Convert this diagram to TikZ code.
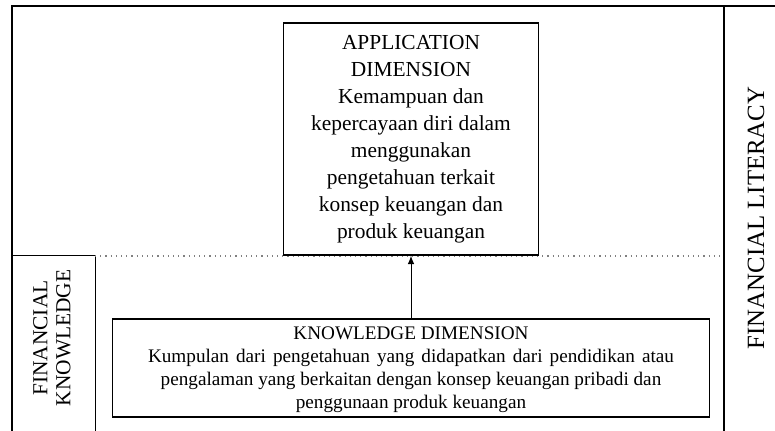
\documentclass[tikz,border=0pt]{standalone}
\usepackage{fontspec}
\setmainfont{Liberation Serif}
\usetikzlibrary{arrows.meta}
\tikzset{
  frame/.style={line width=1.1pt},
  divider/.style={line width=0.7pt},
  dimbox/.style={draw,line width=0.6pt,align=center,inner sep=0pt},
  appbox/.style={dimbox,minimum width=127.5pt,minimum height=116pt,font=\fontsize{10.7}{13.5}\selectfont},
  knowbox/.style={dimbox,minimum width=298.5pt,minimum height=49pt,font=\fontsize{9.6}{11.5}\selectfont},
  sidelabel/.style={rotate=90,align=center,inner sep=0pt},
  flow/.style={line width=0.5pt,-latex}
}
\begin{document}
\begin{tikzpicture}[x=0.5pt,y=-0.5pt]
  \useasboundingbox (0,0) rectangle (775,431);
  % frame and areas
  \draw[frame] (775,6) -- (12,6) -- (12,431);
  \draw[divider] (724,6) -- (724,431);
  \draw[line width=0.5pt] (12,256) -- (95,256) -- (95,431);
  \draw[gray,dotted,line width=0.6pt] (95,256) -- (724,256);

  \node[sidelabel,font=\fontsize{12.4}{15}\selectfont] (literacy) at (756,218) {FINANCIAL LITERACY};
  \node[sidelabel,font=\fontsize{10.7}{11.5}\selectfont] (fknow) at (52,338) {FINANCIAL\\KNOWLEDGE};

  % dimensions
  \node[appbox] (app) at (411,139) {APPLICATION\\DIMENSION\\Kemampuan dan\\kepercayaan diri dalam\\menggunakan\\pengetahuan terkait\\konsep keuangan dan\\produk keuangan};
  \node[knowbox] (know) at (411,368) {KNOWLEDGE DIMENSION\\\makebox[263pt][s]{Kumpulan dari pengetahuan yang didapatkan dari pendidikan atau}\\pengalaman yang berkaitan dengan konsep keuangan pribadi dan\\\raisebox{0pt}[\height][0pt]{penggunaan produk keuangan}};

  \draw[flow] (know) -- (app);
\end{tikzpicture}
\end{document}
